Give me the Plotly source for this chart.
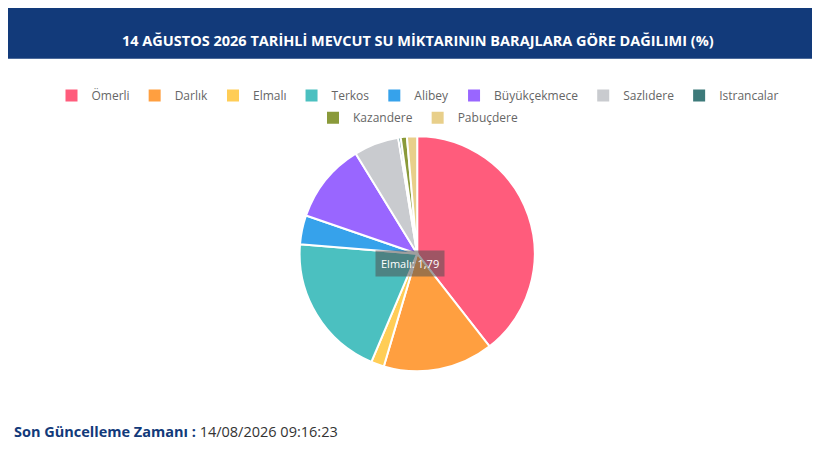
import plotly.graph_objects as go

labels = ["Ömerli", "Darlık", "Elmalı", "Terkos", "Alibey", "Büyükçekmece",
          "Sazlıdere", "Istrancalar", "Kazandere", "Pabuçdere"]
values = [39.6, 15.2, 1.79, 20.0, 4.0, 11.0, 6.2, 0.35, 0.85, 1.4]
colors = ["#ff5c7c", "#ff9f40", "#ffcd56", "#4bc0c0", "#36a2eb", "#9966ff",
          "#c9cbcf", "#3d7a7a", "#8a9a3a", "#e8cf8a"]

fig = go.Figure(go.Pie(
    labels=labels, values=values, sort=False, direction="clockwise", rotation=0,
    marker=dict(colors=colors, line=dict(color="white", width=2)),
    textinfo="none", hoverinfo="label+value", showlegend=False,
    domain=dict(x=[0.355, 0.643], y=[0.212, 0.722]),
))

for i, (lab, col) in enumerate(zip(labels, colors)):
    fig.add_trace(go.Scatter(
        x=[None], y=[None], mode="markers", name=lab,
        marker=dict(symbol="square", size=12, color=col),
        legend="legend" if i < 8 else "legend2",
    ))

leg = dict(orientation="h", xanchor="center", yanchor="middle", x=0.5,
           font=dict(size=12, color="#666"), itemwidth=30, traceorder="normal",
           bgcolor="rgba(0,0,0,0)")
fig.update_layout(
    width=820, height=461, margin=dict(l=0, r=0, t=0, b=0),
    paper_bgcolor="white", plot_bgcolor="white",
    font=dict(family="Open Sans, sans-serif", color="#555"),
    xaxis=dict(visible=False), yaxis=dict(visible=False),
    legend=dict(leg, y=0.81),
    legend2=dict(leg, y=0.762),
    shapes=[dict(type="rect", xref="paper", yref="paper", x0=-0.05, x1=1.05, y0=0.89, y1=1.05,
                 fillcolor="#123a7a", line=dict(width=0), layer="below")],
    annotations=[
        dict(text="<b>14 AĞUSTOS 2026 TARİHLİ MEVCUT SU MİKTARININ BARAJLARA GÖRE DAĞILIMI (%)</b>",
             x=0.5, y=0.955, xref="paper", yref="paper", showarrow=False,
             font=dict(size=14.5, color="white", family="Open Sans, sans-serif")),
        dict(text="<b>Son Güncelleme Zamanı :</b> <span style='color:#333'>14/08/2026 09:16:23</span>",
             x=0.005, y=0.057, xref="paper", yref="paper", xanchor="left", showarrow=False,
             font=dict(size=14.5, color="#123a7a")),
        dict(text="Elmalı: 1,79", x=0.447, y=0.445, xref="paper", yref="paper",
             xanchor="left", showarrow=False, bgcolor="rgba(80,80,80,0.55)",
             borderpad=5, font=dict(size=11, color="white")),
    ],
)

fig.write_html("out.html")
